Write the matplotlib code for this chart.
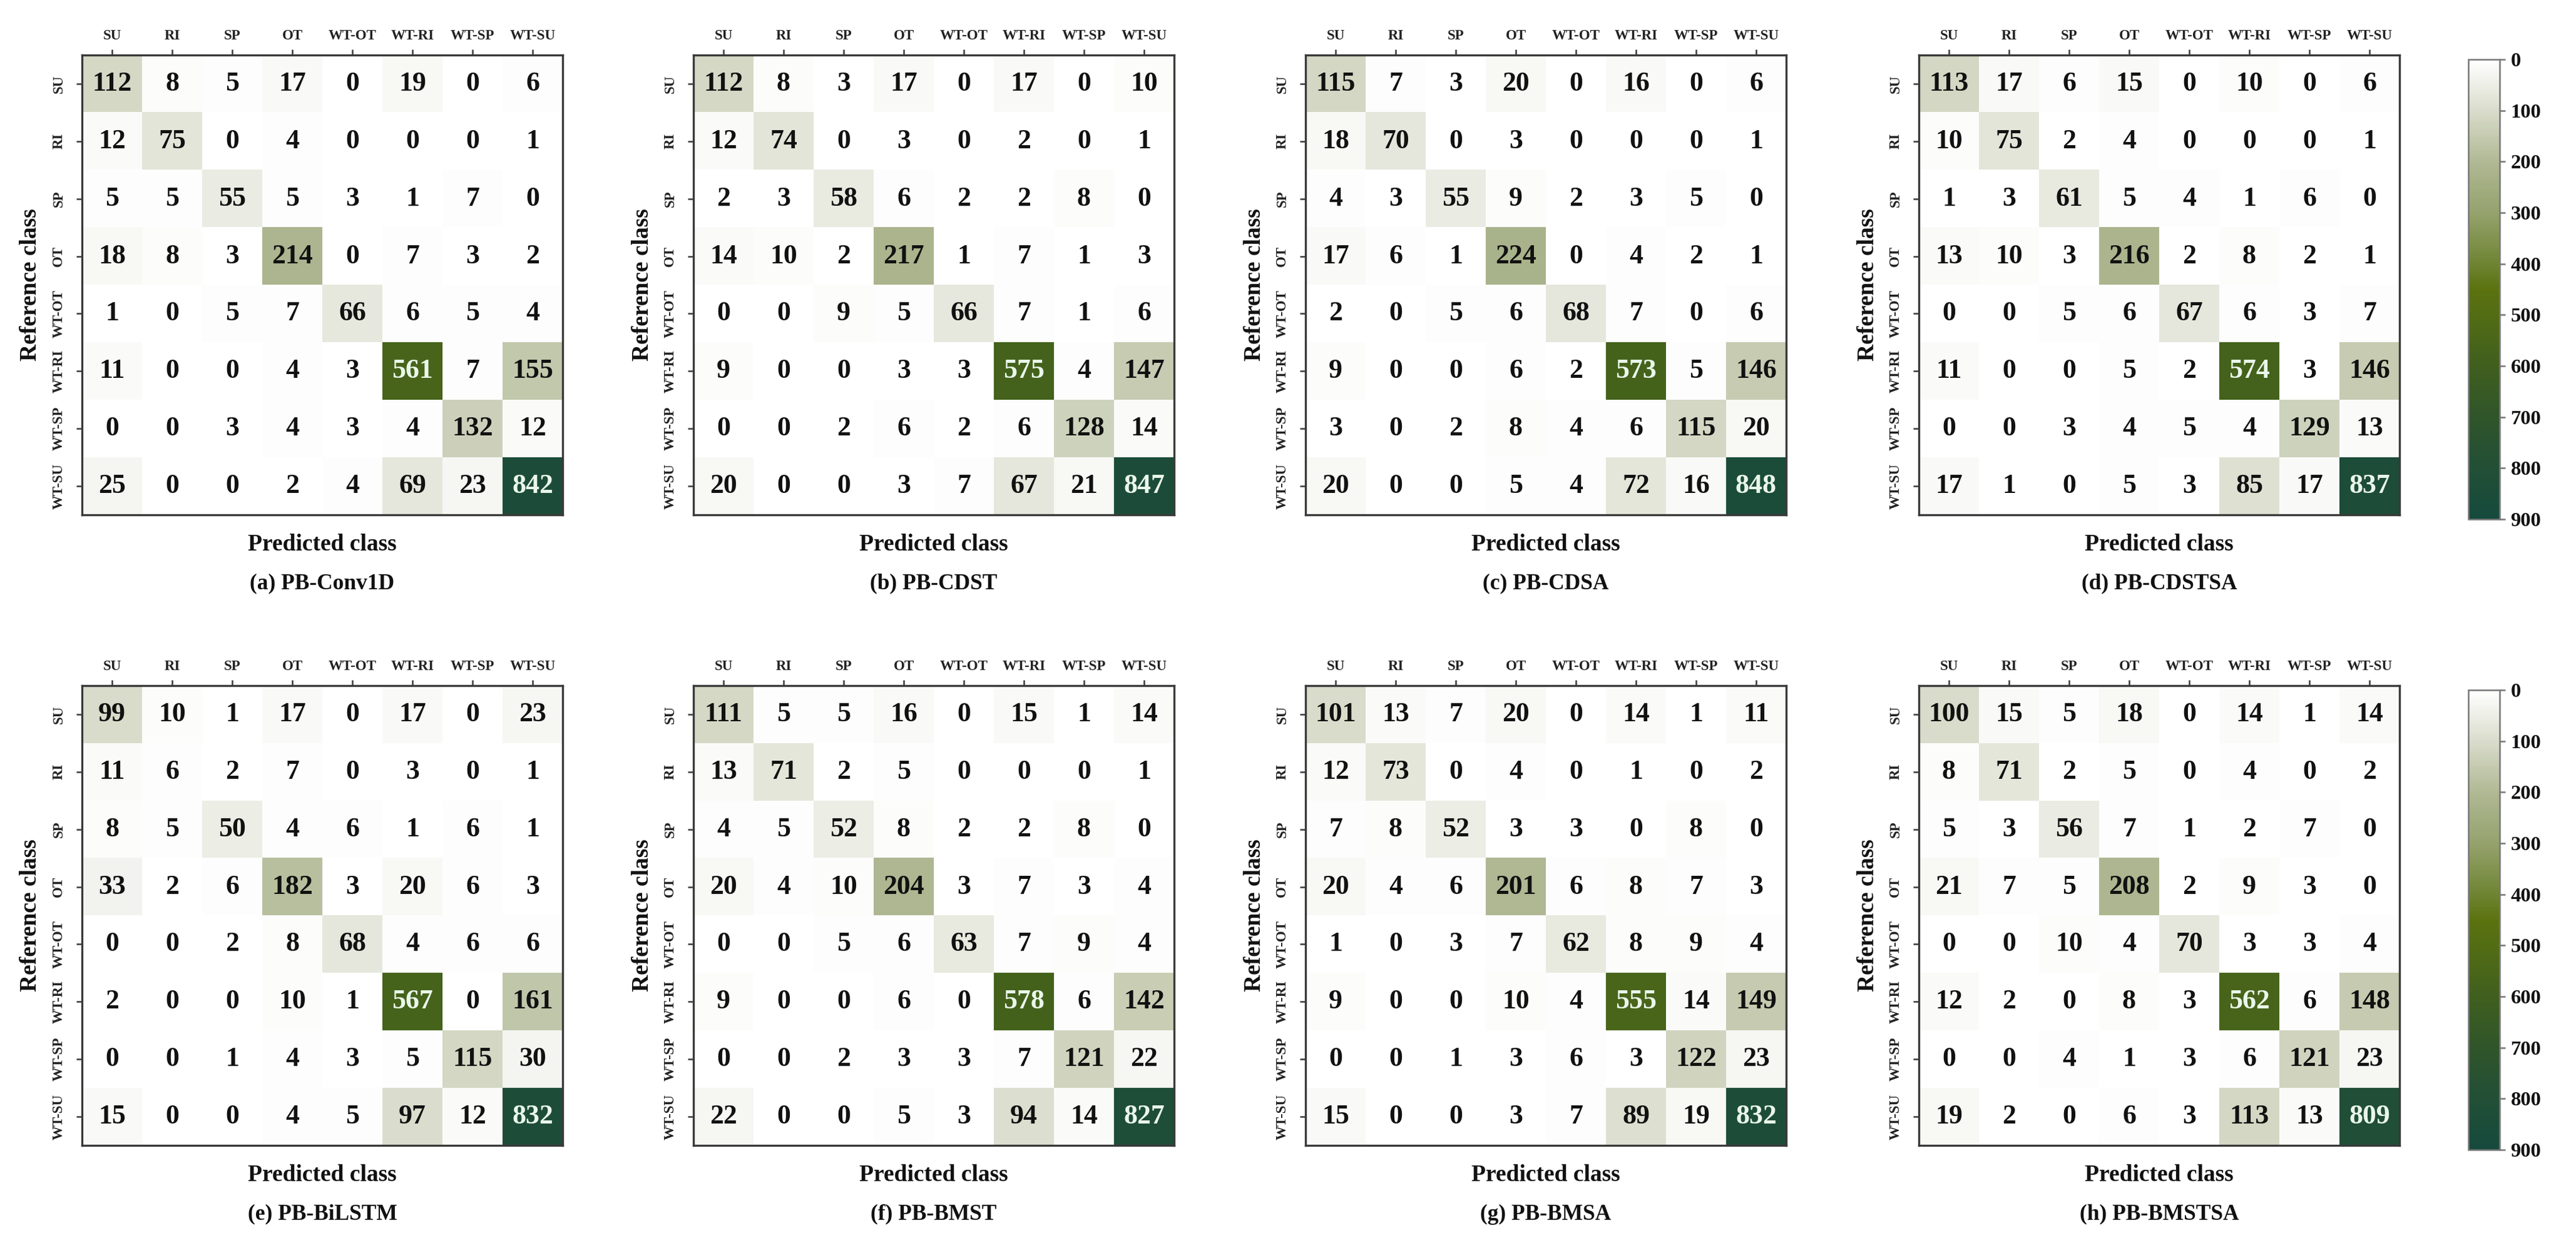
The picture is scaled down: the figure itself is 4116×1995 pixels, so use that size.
import numpy as np
import matplotlib
matplotlib.use("Agg")
import matplotlib.pyplot as plt
from matplotlib.colors import LinearSegmentedColormap

plt.rcParams['font.family'] = ['Liberation Serif', 'DejaVu Serif']
plt.rcParams['font.weight'] = 'bold'

classes = ["SU", "RI", "SP", "OT", "WT-OT", "WT-RI", "WT-SP", "WT-SU"]

titles = ["(a) PB-Conv1D", "(b) PB-CDST", "(c) PB-CDSA", "(d) PB-CDSTSA",
          "(e) PB-BiLSTM", "(f) PB-BMST", "(g) PB-BMSA", "(h) PB-BMSTSA"]

cm_conv1d = [[112, 8, 5, 17, 0, 19, 0, 6],
             [12, 75, 0, 4, 0, 0, 0, 1],
             [5, 5, 55, 5, 3, 1, 7, 0],
             [18, 8, 3, 214, 0, 7, 3, 2],
             [1, 0, 5, 7, 66, 6, 5, 4],
             [11, 0, 0, 4, 3, 561, 7, 155],
             [0, 0, 3, 4, 3, 4, 132, 12],
             [25, 0, 0, 2, 4, 69, 23, 842]]

cm_cdst = [[112, 8, 3, 17, 0, 17, 0, 10],
           [12, 74, 0, 3, 0, 2, 0, 1],
           [2, 3, 58, 6, 2, 2, 8, 0],
           [14, 10, 2, 217, 1, 7, 1, 3],
           [0, 0, 9, 5, 66, 7, 1, 6],
           [9, 0, 0, 3, 3, 575, 4, 147],
           [0, 0, 2, 6, 2, 6, 128, 14],
           [20, 0, 0, 3, 7, 67, 21, 847]]

cm_cdsa = [[115, 7, 3, 20, 0, 16, 0, 6],
           [18, 70, 0, 3, 0, 0, 0, 1],
           [4, 3, 55, 9, 2, 3, 5, 0],
           [17, 6, 1, 224, 0, 4, 2, 1],
           [2, 0, 5, 6, 68, 7, 0, 6],
           [9, 0, 0, 6, 2, 573, 5, 146],
           [3, 0, 2, 8, 4, 6, 115, 20],
           [20, 0, 0, 5, 4, 72, 16, 848]]

cm_cdstsa = [[113, 17, 6, 15, 0, 10, 0, 6],
             [10, 75, 2, 4, 0, 0, 0, 1],
             [1, 3, 61, 5, 4, 1, 6, 0],
             [13, 10, 3, 216, 2, 8, 2, 1],
             [0, 0, 5, 6, 67, 6, 3, 7],
             [11, 0, 0, 5, 2, 574, 3, 146],
             [0, 0, 3, 4, 5, 4, 129, 13],
             [17, 1, 0, 5, 3, 85, 17, 837]]

cm_bilstm = [[99, 10, 1, 17, 0, 17, 0, 23],
             [11, 6, 2, 7, 0, 3, 0, 1],
             [8, 5, 50, 4, 6, 1, 6, 1],
             [33, 2, 6, 182, 3, 20, 6, 3],
             [0, 0, 2, 8, 68, 4, 6, 6],
             [2, 0, 0, 10, 1, 567, 0, 161],
             [0, 0, 1, 4, 3, 5, 115, 30],
             [15, 0, 0, 4, 5, 97, 12, 832]]

cm_bmst = [[111, 5, 5, 16, 0, 15, 1, 14],
           [13, 71, 2, 5, 0, 0, 0, 1],
           [4, 5, 52, 8, 2, 2, 8, 0],
           [20, 4, 10, 204, 3, 7, 3, 4],
           [0, 0, 5, 6, 63, 7, 9, 4],
           [9, 0, 0, 6, 0, 578, 6, 142],
           [0, 0, 2, 3, 3, 7, 121, 22],
           [22, 0, 0, 5, 3, 94, 14, 827]]

cm_bmsa = [[101, 13, 7, 20, 0, 14, 1, 11],
           [12, 73, 0, 4, 0, 1, 0, 2],
           [7, 8, 52, 3, 3, 0, 8, 0],
           [20, 4, 6, 201, 6, 8, 7, 3],
           [1, 0, 3, 7, 62, 8, 9, 4],
           [9, 0, 0, 10, 4, 555, 14, 149],
           [0, 0, 1, 3, 6, 3, 122, 23],
           [15, 0, 0, 3, 7, 89, 19, 832]]

cm_bmstsa = [[100, 15, 5, 18, 0, 14, 1, 14],
             [8, 71, 2, 5, 0, 4, 0, 2],
             [5, 3, 56, 7, 1, 2, 7, 0],
             [21, 7, 5, 208, 2, 9, 3, 0],
             [0, 0, 10, 4, 70, 3, 3, 4],
             [12, 2, 0, 8, 3, 562, 6, 148],
             [0, 0, 4, 1, 3, 6, 121, 23],
             [19, 2, 0, 6, 3, 113, 13, 809]]

matrices = [cm_conv1d, cm_cdst, cm_cdsa, cm_cdstsa,
            cm_bilstm, cm_bmst, cm_bmsa, cm_bmstsa]

cmap = LinearSegmentedColormap.from_list("olive", [
    (0.000, "#ffffff"),
    (0.111, "#d9dccb"),
    (0.222, "#b0b894"),
    (0.333, "#95a26d"),
    (0.444, "#6f8433"),
    (0.500, "#5b720f"),
    (0.555, "#536d14"),
    (0.666, "#405f1e"),
    (0.777, "#30552a"),
    (0.888, "#224f36"),
    (1.000, "#164a3d"),
])

W, H = 4116, 1995
DPI = 300
fig = plt.figure(figsize=(W / DPI, H / DPI), dpi=DPI)
fig.patch.set_facecolor("white")

lefts = [131, 1108, 2086, 3066]
ax_w = 768
rows = [(88, 823), (1096, 1831)]
frame_col = "#3a3a3a"


def fx(px):
    return px / W


def fy(py):
    return 1 - py / H


for k, (mat, title) in enumerate(zip(matrices, titles)):
    r, c = divmod(k, 4)
    x0 = lefts[c]
    ytop, ybot = rows[r]
    ax = fig.add_axes([fx(x0), fy(ybot), ax_w / W, (ybot - ytop) / H])
    m = np.array(mat)
    ax.imshow(m, cmap=cmap, vmin=0, vmax=900, aspect="auto", interpolation="nearest")
    for i in range(8):
        for j in range(8):
            v = m[i, j]
            ax.text(j, i, str(v), ha="center", va="center", fontsize=10.5,
                    fontweight="bold", color="#eaf6ea" if v > 450 else "#111111")
    ax.xaxis.tick_top()
    ax.set_xticks(range(8))
    ax.set_xticklabels(classes, fontsize=5.5, fontweight="bold")
    ax.set_yticks(range(8))
    ax.set_yticklabels(classes, fontsize=5.5, fontweight="bold", rotation=90, va="center")
    ax.tick_params(axis="x", length=2.2, width=0.6, pad=2.6, colors=frame_col, labelcolor="#222222")
    ax.tick_params(axis="y", length=2.2, width=0.6, pad=4.2, colors=frame_col, labelcolor="#222222")
    for sp in ax.spines.values():
        sp.set_color(frame_col)
        sp.set_linewidth(0.8)
    cx = x0 + ax_w / 2
    fig.text(fx(cx), fy(ybot + 47), "Predicted class", ha="center", va="center",
             fontsize=9, fontweight="bold", color="#111111")
    fig.text(fx(cx), fy(ybot + 110), title, ha="center", va="center",
             fontsize=8.5, fontweight="bold", color="#111111")
    fig.text(fx(x0 - 82), fy((ytop + ybot) / 2), "Reference class", ha="center", va="center",
             rotation=90, fontsize=9, fontweight="bold", color="#111111")

    if c == 3:
        cb_top, cb_bot = ytop + 7, ybot + 7
        cax = fig.add_axes([fx(3944), fy(cb_bot), 50 / W, (cb_bot - cb_top) / H])
        sm = plt.cm.ScalarMappable(cmap=cmap, norm=plt.Normalize(0, 900))
        cb = fig.colorbar(sm, cax=cax, ticks=np.arange(0, 901, 100))
        cax.invert_yaxis()
        cb.outline.set_edgecolor("#777777")
        cb.outline.set_linewidth(0.6)
        cax.tick_params(length=2.2, width=0.6, pad=2, colors="#777777", labelcolor="#111111",
                        labelsize=7.8)
        for lab in cax.get_yticklabels():
            lab.set_fontweight("bold")

fig.savefig("out.png", dpi=DPI, facecolor="white")
